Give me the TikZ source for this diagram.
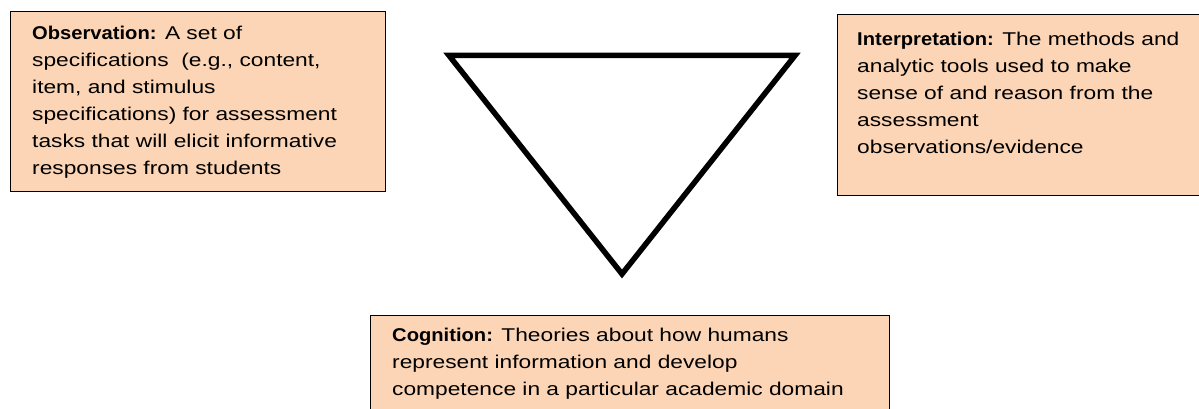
\documentclass[tikz,border=0pt]{standalone}
\usepackage{fontspec}
\setmainfont{Liberation Sans}[FakeStretch=1.23]
\newfontfamily\headfont{Liberation Sans}[FakeStretch=1.09]
\newcommand{\hd}[1]{{\headfont\bfseries #1}}
\usetikzlibrary{positioning}
\definecolor{peach}{RGB}{251,213,181}
\tikzset{
  card/.style={rectangle, draw=black, line width=1.4pt, fill=peach, anchor=north west, inner sep=0pt},
  cardtxt/.style={align=left, inner sep=0pt, anchor=north west, font=\fontsize{18.5pt}{27pt}\selectfont},
  tri/.style={draw=black, line width=5.5pt, line join=miter}
}
\begin{document}
\begin{tikzpicture}[x=1pt,y=-1pt]
  \useasboundingbox (0,0) rectangle (1199,409);
  \clip (0,0) rectangle (1199,409);

  % ---- the three boxes ----
  \node[card, minimum width=375pt, minimum height=180pt] (obs) at (10,11) {};
  \node[cardtxt, below right=15pt and 22pt of obs.north west] (obstxt)
    {\hd{Observation:} A set of\\
     specifications\ \ (e.g., content,\\
     item, and stimulus\\
     specifications) for assessment\\
     tasks that will elicit informative\\
     responses from students};

  \node[card, minimum width=380pt, minimum height=181pt] (intp) at (837,14) {};
  \node[cardtxt, below right=17.5pt and 20pt of intp.north west] (intptxt)
    {\hd{Interpretation:} The methods and\\
     analytic tools used to make\\
     sense of and reason from the\\
     assessment\\
     observations/evidence};

  \node[card, minimum width=519pt, minimum height=110pt] (cog) at (370,315) {};
  \node[cardtxt, below right=13pt and 22pt of cog.north west] (cogtxt)
    {\hd{Cognition:} Theories about how humans\\
     represent information and develop\\
     competence in a particular academic domain};

  % ---- triangle ----
  \coordinate (tl) at (449,55.5);
  \coordinate (tr) at (795,55.5);
  \coordinate (bt) at (622,274);
  \draw[tri] (tl) -- (tr) -- (bt) -- cycle;
\end{tikzpicture}
\end{document}
